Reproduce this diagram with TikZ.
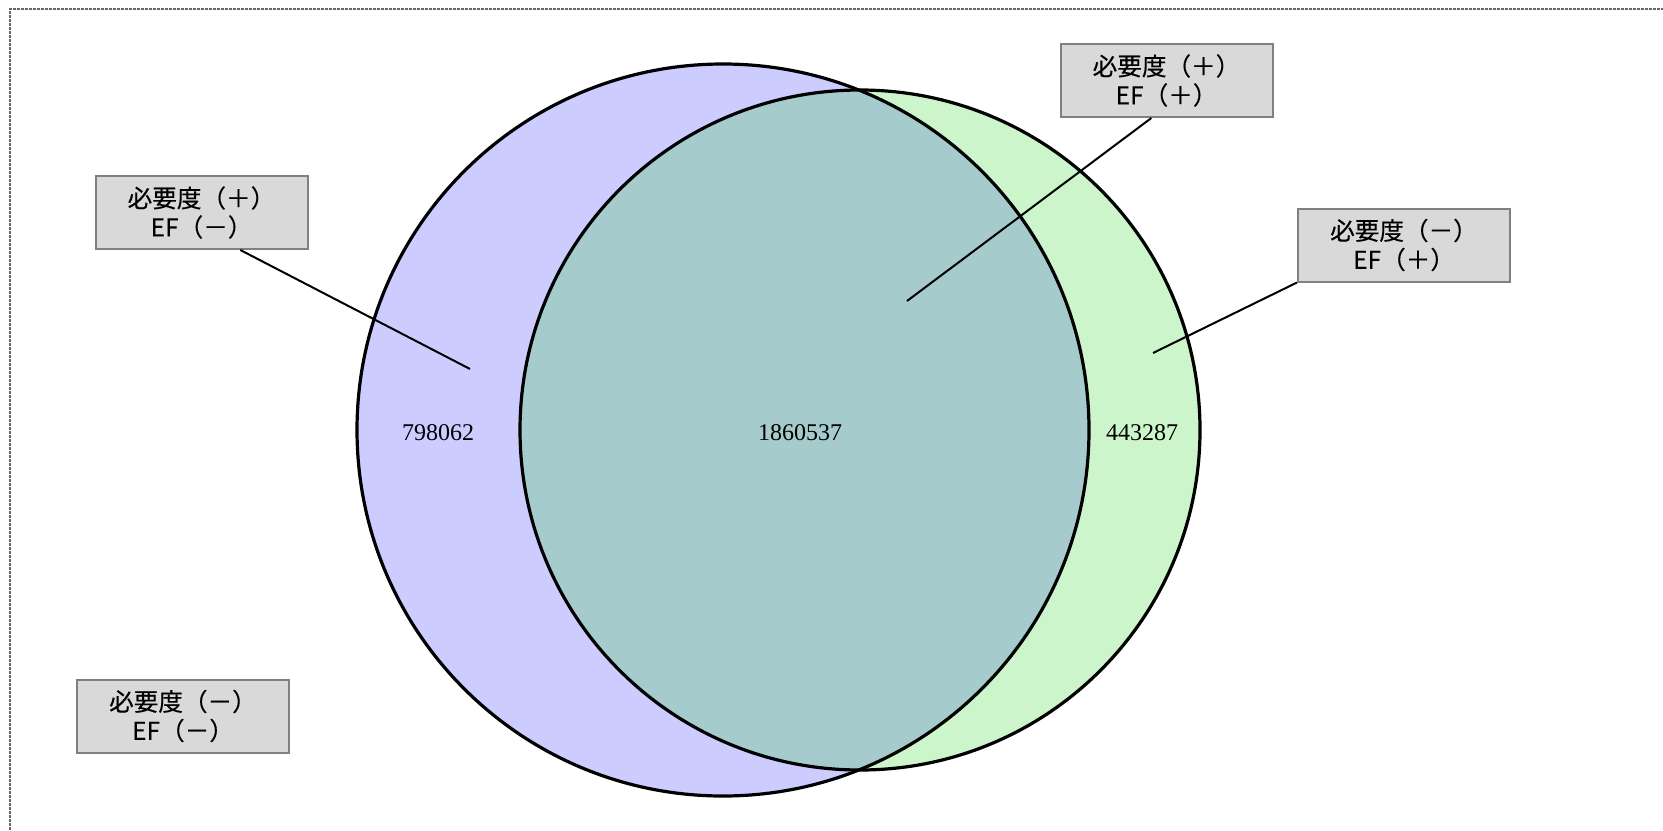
\documentclass[tikz,border=0pt]{standalone}
\usepackage{fontspec}
\setmainfont{Liberation Serif}
\newfontfamily\jpfont[FakeBold=0.3]{Noto Sans CJK JP}
\definecolor{setA}{RGB}{204,204,255}
\definecolor{setB}{RGB}{204,245,204}
\definecolor{setAB}{RGB}{166,203,204}
\definecolor{boxgray}{RGB}{217,217,217}
\tikzset{
	labelbox/.style={draw=black!50, line width=1pt, fill=boxgray, align=center, minimum width=106pt, minimum height=36.5pt, inner sep=1pt, font=\jpfont\fontsize{12.3}{14.5}\selectfont},
	count/.style={font=\fontsize{12}{14}\selectfont},
	ring/.style={line width=1.6pt},
}
\begin{document}
\begin{tikzpicture}[x=0.5pt, y=-0.5pt]
	\useasboundingbox (0,0) rectangle (1663,830);
	% rahmen
	\draw[black!60, line width=0.6pt, dash pattern=on 1.5pt off 0.5pt] (10,830) -- (10,9) -- (1663,9);
	% kreise
	\coordinate (cA) at (723,430);
	\coordinate (cB) at (860,430);
	\fill[setA] (cA) circle [radius=366];
	\fill[setB] (cB) circle [radius=340];
	\begin{scope}
		\clip (cA) circle [radius=366];
		\fill[setAB] (cB) circle [radius=340];
	\end{scope}
	\draw[ring] (cA) circle [radius=366];
	\draw[ring] (cB) circle [radius=340];
	% anzahlen
	\node[count] (nA) at (438,433) {798062};
	\node[count] (nAB) at (800,433) {1860537};
	\node[count] (nB) at (1142,433) {443287};
	% beschriftung
	\node[labelbox] (pm) at (201.5,212.5) {必要度（＋）\\EF（－）};
	\node[labelbox] (pp) at (1166.5,80.5) {必要度（＋）\\EF（＋）};
	\node[labelbox] (mp) at (1404,245) {必要度（－）\\EF（＋）};
	\node[labelbox] (mm) at (183,716) {必要度（－）\\EF（－）};
	% zeiger
	\coordinate (tA) at (470,369);
	\coordinate (tAB) at (907,301);
	\coordinate (tB) at (1153,353);
	\draw[line width=1pt] (pm.-44) -- (tA);
	\draw[line width=1pt] (pp.-112) -- (tAB);
	\draw[line width=1pt] (mp.south west) -- (tB);
\end{tikzpicture}
\end{document}
